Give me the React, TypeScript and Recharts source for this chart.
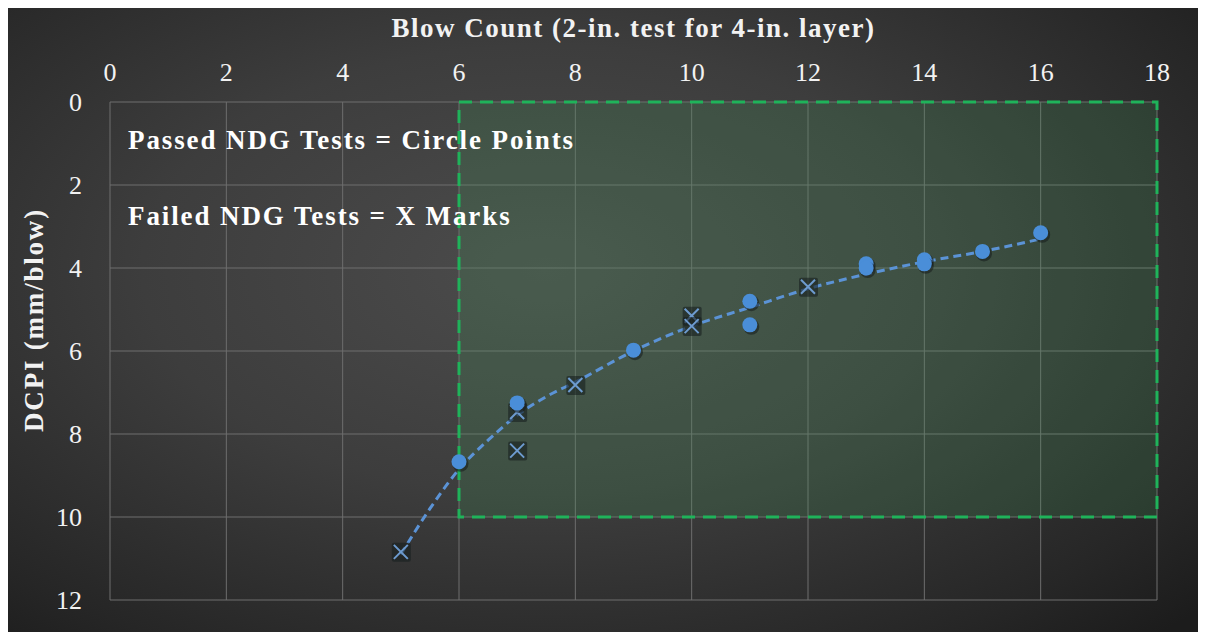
import React from "react";
import { CartesianGrid, ComposedChart, Line, ReferenceArea, Scatter, XAxis, YAxis } from "recharts";

// blow count vs DCPI readings
const passedX = [6, 7, 9, 11, 11, 13, 13, 14, 14, 15, 16];
const passedY = [8.67, 7.25, 5.98, 4.8, 5.37, 3.9, 4.0, 3.8, 3.9, 3.6, 3.15];
const failedX = [5, 7, 7, 8, 10, 10, 12];
const failedY = [10.84, 7.47, 8.4, 6.82, 5.15, 5.4, 4.45];

// dashed trendline
const trendX = [5, 5.5, 6, 6.5, 7, 7.5, 8, 9, 10, 11, 12, 13, 14, 15, 16];
const trendY = [10.9, 9.8, 8.85, 8.15, 7.55, 7.1, 6.75, 6.0, 5.4, 4.95, 4.5, 4.15, 3.85, 3.6, 3.3];

const xTicks = [0, 2, 4, 6, 8, 10, 12, 14, 16, 18];
const yTicks = [0, 2, 4, 6, 8, 10, 12];

const passed = passedX.map((x, i) => ({ x, y: passedY[i] }));
const failed = failedX.map((x, i) => ({ x, y: failedY[i] }));
const trend = trendX.map((x, i) => ({ x, y: trendY[i] }));

const FONT = "'Liberation Serif', 'DejaVu Serif', serif";

const Dot = (p: any) => (
  <g>
    <circle cx={p.cx + 1.5} cy={p.cy + 2} r={8} fill="#151b1b" opacity={0.55} />
    <circle cx={p.cx} cy={p.cy} r={7.5} fill="#4a8ed8" />
  </g>
);

const Cross = (p: any) => (
  <g>
    <rect x={p.cx - 9} y={p.cy - 9} width={19} height={19} rx={2} fill="#172020" opacity={0.6} />
    <path
      d={`M${p.cx - 7},${p.cy - 7}L${p.cx + 7},${p.cy + 7}M${p.cx + 7},${p.cy - 7}L${p.cx - 7},${p.cy + 7}`}
      stroke="#6d9bcf"
      strokeWidth={2}
    />
  </g>
);

const XTick = (p: any) => (
  <text x={p.x} y={p.y - 13} textAnchor="middle" fill="#f2f2f2" fontSize={26} fontFamily={FONT}>
    {p.payload.value}
  </text>
);

const YTick = (p: any) => (
  <text x={p.x - 20} y={p.y + 9} textAnchor="end" fill="#f2f2f2" fontSize={26} fontFamily={FONT}>
    {p.payload.value}
  </text>
);

const YTitle = (p: any) => {
  const cx = 26;
  const cy = p.viewBox.y + p.viewBox.height / 2 - 31;
  return (
    <text
      x={cx}
      y={cy}
      transform={`rotate(-90 ${cx} ${cy})`}
      textAnchor="middle"
      dominantBaseline="central"
      fill="#f2f2f2"
      fontSize={27}
      fontWeight="bold"
      letterSpacing={1.8}
      fontFamily={FONT}
    >
      DCPI (mm/blow)
    </text>
  );
};

const note: React.CSSProperties = {
  position: "absolute",
  left: 120,
  color: "#ffffff",
  fontFamily: FONT,
  fontWeight: "bold",
  fontSize: 27,
  letterSpacing: 1.9,
  whiteSpace: "nowrap",
};

export default function App() {
  return (
    <div
      style={{
        position: "relative",
        width: 1194,
        height: 624,
        fontFamily: FONT,
        background: "radial-gradient(ellipse 75% 80% at 45% 42%, #4c4c4c 0%, #3d3d3d 45%, #262626 85%, #1c1c1c 100%)",
      }}
    >
      <ComposedChart width={1194} height={624} margin={{ top: 0, right: 45, bottom: 32, left: 0 }}>
        <CartesianGrid stroke="#6e6e6e" strokeWidth={1} />
        <XAxis
          type="number"
          dataKey="x"
          orientation="top"
          domain={[0, 18]}
          ticks={xTicks}
          height={94}
          axisLine={false}
          tickLine={false}
          tick={<XTick />}
          label={{
            value: "Blow Count (2-in. test for 4-in. layer)",
            position: "insideTop",
            offset: 10,
            fill: "#f2f2f2",
            fontSize: 27,
            fontWeight: "bold",
            letterSpacing: 1.5,
            fontFamily: FONT,
          }}
        />
        <YAxis
          type="number"
          dataKey="y"
          reversed
          domain={[0, 12]}
          ticks={yTicks}
          width={102}
          axisLine={false}
          tickLine={false}
          tick={<YTick />}
          label={{ content: <YTitle /> }}
        />
        <ReferenceArea
          x1={6}
          x2={18}
          y1={0}
          y2={10}
          fill="#3f9f5a"
          fillOpacity={0.19}
          stroke="#1fb35a"
          strokeWidth={3}
          strokeDasharray="13 8"
          ifOverflow="visible"
        />
        <Scatter data={failed} dataKey="y" shape={<Cross />} isAnimationActive={false} />
        <Line
          data={trend}
          dataKey="y"
          type="monotone"
          stroke="#5b93d6"
          strokeWidth={3}
          strokeDasharray="8 5"
          dot={false}
          activeDot={false}
          isAnimationActive={false}
        />
        <Scatter data={passed} dataKey="y" shape={<Dot />} isAnimationActive={false} />
      </ComposedChart>
      <div style={{ ...note, top: 117 }}>Passed NDG Tests = Circle Points</div>
      <div style={{ ...note, top: 193 }}>Failed NDG Tests = X Marks</div>
    </div>
  );
}
